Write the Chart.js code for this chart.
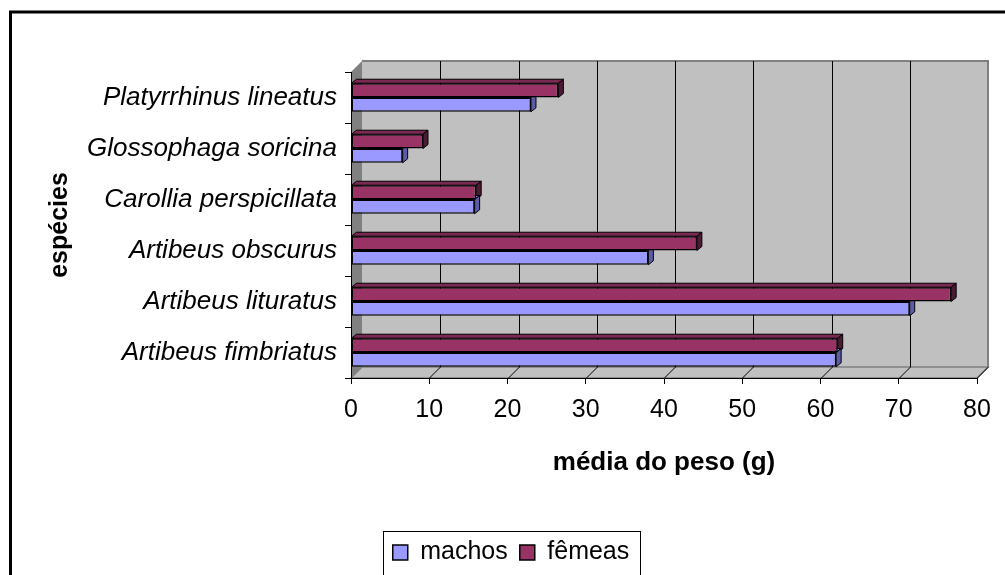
<!DOCTYPE html>
<html>
<head>
<meta charset="utf-8">
<script src="https://cdn.jsdelivr.net/npm/chart.js@4.4.0/dist/chart.umd.min.js"></script>
<style>
  html, body { margin: 0; padding: 0; background: #fff; }
  #wrap { width: 1005px; height: 575px; }
</style>
</head>
<body>
<div id="wrap"><canvas id="pesoChart" width="1005" height="575"></canvas></div>
<script>
// species, top to bottom as in the picture
const especies = [
  "Platyrrhinus lineatus",
  "Glossophaga soricina",
  "Carollia perspicillata",
  "Artibeus obscurus",
  "Artibeus lituratus",
  "Artibeus fimbriatus"
];
const machos = [23.0, 6.6, 15.8, 38.0, 71.4, 62.0];
const femeas = [26.5, 9.2, 16.0, 44.2, 76.7, 62.2];
const valueTicks = [0, 10, 20, 30, 40, 50, 60, 70, 80];

const WALL = 11;          // offset of the back wall (3D look)
const BAR_DX = 5, BAR_DY = 4;
const FONT = "'Liberation Sans', Arial, sans-serif";

Chart.defaults.font.family = FONT;
Chart.defaults.color = "#000";

// outer frame, side wall, back wall, floor and grid
const walls = {
  id: "walls",
  beforeDraw(chart) {
    const ctx = chart.ctx;
    const a = chart.chartArea;
    const xs = chart.scales.x;
    ctx.save();
    ctx.strokeStyle = "#000";
    ctx.lineWidth = 3;
    ctx.strokeRect(10.5, 12, 1100, 700);

    // left wall
    ctx.fillStyle = "#808080";
    ctx.beginPath();
    ctx.moveTo(a.left, a.top);
    ctx.lineTo(a.left + WALL, a.top - WALL);
    ctx.lineTo(a.left + WALL, a.bottom - WALL);
    ctx.lineTo(a.left, a.bottom);
    ctx.closePath();
    ctx.fill();

    // back wall
    ctx.fillStyle = "#c0c0c0";
    ctx.fillRect(a.left + WALL, a.top - WALL, a.width, a.height);
    ctx.strokeStyle = "#808080";
    ctx.lineWidth = 2;
    ctx.beginPath();
    ctx.moveTo(a.left + WALL, a.top - WALL);
    ctx.lineTo(a.right + WALL, a.top - WALL);
    ctx.lineTo(a.right + WALL, a.bottom - WALL);
    ctx.stroke();

    // floor
    ctx.fillStyle = "#c0c0c0";
    ctx.beginPath();
    ctx.moveTo(a.left, a.bottom);
    ctx.lineTo(a.left + WALL, a.bottom - WALL);
    ctx.lineTo(a.right + WALL, a.bottom - WALL);
    ctx.lineTo(a.right, a.bottom);
    ctx.closePath();
    ctx.fill();
    ctx.strokeStyle = "#808080";
    ctx.lineWidth = 1.5;
    ctx.stroke();

    // grid lines on back wall and floor
    ctx.strokeStyle = "#000";
    ctx.lineWidth = 1;
    valueTicks.forEach(function (v) {
      const px = Math.round(xs.getPixelForValue(v)) + 0.5;
      ctx.beginPath();
      if (v > 0 && v < 80) {
        ctx.moveTo(px + WALL, a.top - WALL);
        ctx.lineTo(px + WALL, a.bottom - WALL);
      }
      if (v > 0) {
        ctx.moveTo(px + WALL, a.bottom - WALL);
        ctx.lineTo(px, a.bottom);
      }
      ctx.stroke();
    });
    ctx.restore();
  }
};

// top and side faces of the bars
const barFaces = {
  id: "barFaces",
  beforeDatasetsDraw(chart) {
    const ctx = chart.ctx;
    ctx.save();
    ctx.strokeStyle = "#000";
    ctx.lineWidth = 1;
    chart.data.datasets.forEach(function (ds, i) {
      const meta = chart.getDatasetMeta(i);
      meta.data.forEach(function (bar) {
        const t = bar.y - bar.height / 2;
        const b = bar.y + bar.height / 2;
        ctx.fillStyle = ds.topColor;
        ctx.beginPath();
        ctx.moveTo(bar.base, t);
        ctx.lineTo(bar.base + BAR_DX, t - BAR_DY);
        ctx.lineTo(bar.x + BAR_DX, t - BAR_DY);
        ctx.lineTo(bar.x, t);
        ctx.closePath();
        ctx.fill();
        ctx.stroke();
        ctx.fillStyle = ds.sideColor;
        ctx.beginPath();
        ctx.moveTo(bar.x, t);
        ctx.lineTo(bar.x + BAR_DX, t - BAR_DY);
        ctx.lineTo(bar.x + BAR_DX, b - BAR_DY);
        ctx.lineTo(bar.x, b);
        ctx.closePath();
        ctx.fill();
        ctx.stroke();
      });
    });
    ctx.restore();
  }
};

// frame round the legend
const legendBox = {
  id: "legendBox",
  afterDraw(chart) {
    const hb = chart.legend.legendHitBoxes;
    if (!hb || !hb.length) return;
    let l = Infinity, r = -Infinity;
    hb.forEach(function (h) {
      l = Math.min(l, h.left);
      r = Math.max(r, h.left + h.width);
    });
    const cy = hb[0].top + hb[0].height / 2;
    const ctx = chart.ctx;
    ctx.save();
    ctx.strokeStyle = "#000";
    ctx.lineWidth = 1;
    ctx.strokeRect(Math.round(l - 10) + 0.5, Math.round(cy - 22) + 0.5, Math.round(r - l + 20), 44);
    ctx.restore();
  }
};

const ctx = document.getElementById("pesoChart").getContext("2d");
const pesoChart = new Chart(ctx, {
  type: "bar",
  data: {
    labels: especies,
    datasets: [
      {
        label: "fêmeas",
        data: femeas,
        backgroundColor: "#993366",
        topColor: "#7a2952",
        sideColor: "#4d1a33",
        borderColor: "#000",
        borderWidth: 1.5,
        borderSkipped: false
      },
      {
        label: "machos",
        data: machos,
        backgroundColor: "#9999ff",
        topColor: "#8080d9",
        sideColor: "#5c5ca6",
        borderColor: "#000",
        borderWidth: 1.5,
        borderSkipped: false
      }
    ]
  },
  options: {
    indexAxis: "y",
    responsive: false,
    animation: false,
    layout: { padding: { left: 45, right: 28, top: 72, bottom: 0 } },
    datasets: { bar: { categoryPercentage: 0.56, barPercentage: 1 } },
    scales: {
      x: {
        min: 0,
        max: 80,
        ticks: { stepSize: 10, padding: 11, font: { size: 25 } },
        grid: { drawOnChartArea: false, drawTicks: true, tickLength: 6, color: "#000" },
        border: { display: true, color: "#000", width: 1 },
        title: {
          display: true,
          text: "média do peso (g)",
          font: { size: 26, weight: "bold" },
          padding: { top: 0, bottom: 50 }
        },
        afterFit: function (scale) { scale.height = 150; }
      },
      y: {
        ticks: { padding: 8, font: { size: 26, style: "italic" } },
        grid: { offset: true, drawOnChartArea: false, drawTicks: true, tickLength: 6, color: "#000" },
        border: { display: true, color: "#000", width: 1 },
        title: {
          display: true,
          text: "espécies",
          font: { size: 25, weight: "bold" },
          padding: { top: 0, bottom: 0 }
        },
        afterFit: function (scale) { scale.width = 306; }
      }
    },
    plugins: {
      legend: {
        position: "bottom",
        reverse: true,
        labels: { font: { size: 25 }, boxWidth: 15, boxHeight: 15, padding: 12, color: "#000" }
      },
      tooltip: { enabled: false }
    }
  },
  plugins: [walls, barFaces, legendBox]
});
</script>
</body>
</html>
